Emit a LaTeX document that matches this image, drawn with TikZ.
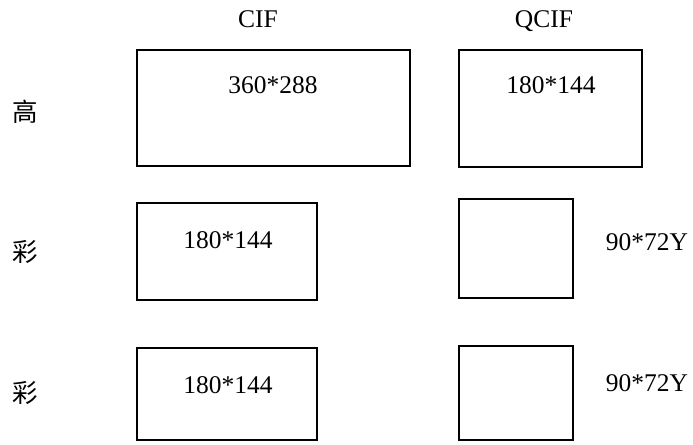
\documentclass[tikz,border=0pt]{standalone}
\usepackage{fontspec}
\setmainfont{Liberation Serif}
\newfontfamily\cjk{Noto Sans CJK SC}
\usetikzlibrary{positioning}

\begin{document}
\begin{tikzpicture}[x=0.02cm, y=-0.02cm, font=\fontsize{14.5}{16}\selectfont]
\tikzset{frame/.style={draw, line width=0.7pt, inner sep=0pt},
  head/.style={font=\cjk\fontsize{14.5}{16}\selectfont}}
\useasboundingbox (0,0) rectangle (693,445);
% column heads
\node[anchor=base] (cif) at (258,28) {CIF};
\node[anchor=base] (qcif) at (544,28) {QCIF};
% row heads
\node[head] (rowA) at (25,112) {高};
\node[head] (rowB) at (25,252) {彩};
\node[head] (rowC) at (25,393) {彩};
% frames
\node[frame, minimum width=5.46cm, minimum height=2.32cm] (fA1) at (273.5,108) {};
\node[frame, minimum width=3.66cm, minimum height=2.34cm] (fA2) at (550.5,108.5) {};
\node[frame, minimum width=3.6cm, minimum height=1.94cm] (fB1) at (227,251.5) {};
\node[frame, minimum width=2.28cm, minimum height=1.98cm] (fB2) at (516,248.5) {};
\node[frame, minimum width=3.6cm, minimum height=1.84cm] (fC1) at (227,394) {};
\node[frame, minimum width=2.28cm, minimum height=1.88cm] (fC2) at (516,393) {};
% sizes
\node (sA1) at (273,85) {360*288};
\node (sA2) at (551,85) {180*144};
\node (sB1) at (228,240) {180*144};
\node (sB2) at (647,242) {90*72Y};
\node (sC1) at (228,385) {180*144};
\node (sC2) at (647,383) {90*72Y};
\end{tikzpicture}
\end{document}
